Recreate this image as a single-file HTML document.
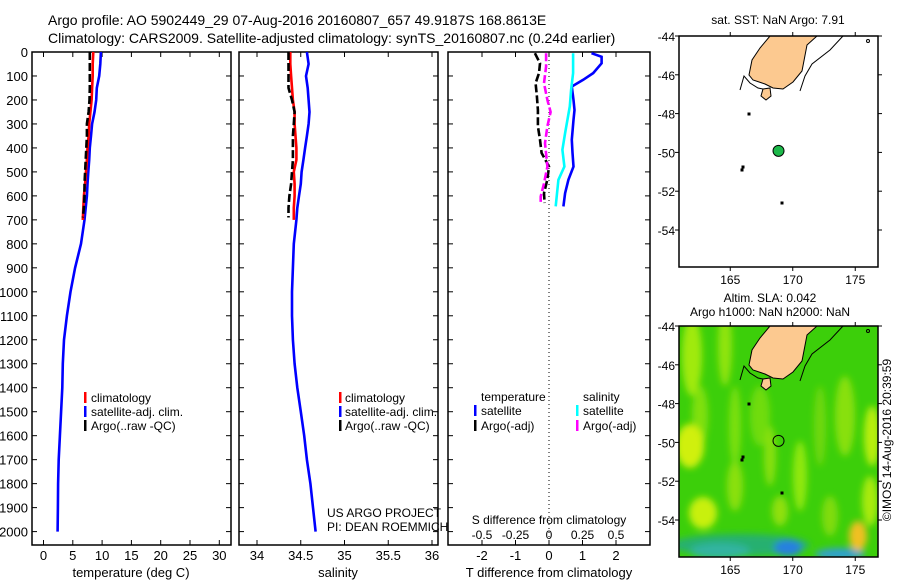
<!DOCTYPE html>
<html><head><meta charset="utf-8"><style>
body{margin:0;background:#fff;}
svg{display:block;font-family:"Liberation Sans",sans-serif;}
</style></head><body>
<svg id="fig" width="900" height="580" viewBox="0 0 900 580" xmlns="http://www.w3.org/2000/svg">
<rect width="900" height="580" fill="#fff"/>
<text x="48" y="25" font-size="14">Argo profile: AO 5902449_29 07-Aug-2016 20160807_657 49.9187S 168.8613E</text>
<text x="48" y="43" font-size="14">Climatology: CARS2009. Satellite-adjusted climatology: synTS_20160807.nc (0.24d earlier)</text>
<g id="plots"></g>
</svg>
<script>
// ---------- data ----------
const climDepths=[0,50,100,150,200,250,300,350,400,450,500,550,600,650,700];
const climTemp=[8.5,8.4,8.4,8.3,8.2,8.0,7.8,7.7,7.5,7.4,7.25,7.1,6.9,6.8,6.7];
const climSal=[34.38,34.38,34.39,34.40,34.41,34.43,34.43,34.44,34.45,34.45,34.42,34.43,34.43,34.42,34.42];
const satDepths=[0,50,100,150,200,250,300,350,400,450,500,550,600,650,700,800,900,1000,1100,1200,1300,1400,1500,1600,1700,1800,1900,2000];
const satTemp=[9.8,9.7,9.5,9.1,9.0,8.7,8.3,8.1,7.9,7.8,7.65,7.5,7.4,7.2,7.0,6.4,5.4,4.6,4.0,3.5,3.3,3.2,3.0,2.8,2.6,2.5,2.45,2.4];
const satSal=[34.57,34.59,34.56,34.58,34.59,34.60,34.59,34.57,34.55,34.53,34.51,34.50,34.48,34.46,34.45,34.42,34.41,34.40,34.40,34.41,34.43,34.46,34.50,34.54,34.57,34.61,34.64,34.67];
const argoDepths=[0,50,100,150,200,250,300,350,400,450,500,550,600,650,690];
const argoTemp=[7.9,7.9,7.9,7.9,7.85,7.7,7.4,7.4,7.3,7.2,7.1,7.0,7.0,6.9,6.7];
const argoSal=[34.36,34.36,34.36,34.36,34.40,34.43,34.42,34.41,34.41,34.41,34.40,34.39,34.37,34.36,34.36];
const dTsatDepths=[5,20,47,88,116,144,200,242,283,366,420,478,533,589,644];
const dTsat=[1.27,1.57,1.57,1.32,1.02,0.68,0.73,0.76,0.73,0.68,0.70,0.73,0.58,0.48,0.43];
const dSsatDepths=[5,88,158,227,338,408,478,533,644];
const dSsat=[0.18,0.18,0.165,0.155,0.12,0.10,0.115,0.07,0.05];
const dTargoDepths=[5,47,88,130,185,242,310,366,421,478,533,589,630];
const dTargo=[-0.42,-0.27,-0.30,-0.40,-0.36,-0.33,-0.33,-0.27,-0.22,0.0,-0.05,-0.15,-0.13];
const dSargoDepths=[5,60,130,200,250,310,380,478,548,603,630];
const dSargo=[-0.022,-0.022,-0.037,-0.012,0.012,-0.012,-0.03,-0.012,-0.037,-0.062,-0.062];
const depthTicks=[0,100,200,300,400,500,600,700,800,900,1000,1100,1200,1300,1400,1500,1600,1700,1800,1900,2000];
const tempTicks=[0,5,10,15,20,25,30];
const salTicks=[34,34.5,35,35.5,36];
const salTickLabels=["34","34.5","35","35.5","36"];
const dTTicks=[-2,-1,0,1,2];
const dSTicks=[-0.5,-0.25,0,0.25,0.5];
const dSTickLabels=["-0.5","-0.25","0","0.25","0.5"];
const latTicks=[-44,-46,-48,-50,-52,-54];
const lonTicks=[165,170,175];
const argoLon=168.8613, argoLat=-49.9187;

// ---------- helpers ----------
const NS="http://www.w3.org/2000/svg";
const root=document.getElementById('plots');
function mk(tag,attrs,parent){const e=document.createElementNS(NS,tag);for(const k in attrs)e.setAttribute(k,attrs[k]);(parent||root).appendChild(e);return e;}
const TOP=52,BOT=545;
const yD=d=>TOP+d*0.2398;
function line(xs,ds,sx,color,dash,name){
  const pts=xs.map((v,i)=>sx(v).toFixed(1)+','+yD(ds[i]).toFixed(1)).join(' ');
  const p=mk('polyline',{points:pts,fill:'none',stroke:color,'stroke-width':2.6});
  if(dash)p.setAttribute('stroke-dasharray',dash);
  
  
}
function panel(x0,x1,name){
  const r=mk('rect',{x:x0,y:TOP,width:x1-x0,height:BOT-TOP,fill:'none',stroke:'#000','stroke-width':1.5});
  
  
  depthTicks.forEach(d=>{mk('line',{x1:x0,x2:x0+5,y1:yD(d),y2:yD(d),stroke:'#000'});mk('line',{x1:x1-5,x2:x1,y1:yD(d),y2:yD(d),stroke:'#000'});});
}
function txt(x,y,s,size,anchor,name){const t=mk('text',{x:x,y:y,'font-size':size,'text-anchor':anchor||'start'});t.textContent=s;
  
  return t;}
function legendBar(x,y,color){mk('rect',{x:x,y:y-10,width:2.5,height:11,fill:color});}

// ---------- panel 1: temperature ----------
const sxT=v=>43.5+v*5.86;
panel(32,231,'temperature-panel');
depthTicks.forEach(d=>txt(28,yD(d)+5,String(d),13,'end','depth-tick-label'));
tempTicks.forEach(v=>{mk('line',{x1:sxT(v),x2:sxT(v),y1:BOT,y2:BOT-5,stroke:'#000'});mk('line',{x1:sxT(v),x2:sxT(v),y1:TOP,y2:TOP+5,stroke:'#000'});txt(sxT(v),560,String(v),13,'middle','temp-tick-label');});
txt(131,577,'temperature (deg C)',13,'middle','temp-axis-title');
line(satTemp,satDepths,sxT,'#0000ff',null,'temp-satellite-line');
line(climTemp,climDepths,sxT,'#ff0000',null,'temp-climatology-line');
line(argoTemp,argoDepths,sxT,'#000',"8 3",'temp-argo-line');
legendBar(84,402,'#f00');txt(91,402,'climatology',12,'start','legend-climatology');
legendBar(84,416,'#00f');txt(91,416,'satellite-adj. clim.',12,'start','legend-satellite');
legendBar(84,430,'#000');txt(91,430,'Argo(..raw -QC)',12,'start','legend-argo');

// ---------- panel 2: salinity ----------
const sxS=v=>257+(v-34)*87.5;
panel(239,438,'salinity-panel');
salTicks.forEach((v,i)=>{mk('line',{x1:sxS(v),x2:sxS(v),y1:BOT,y2:BOT-5,stroke:'#000'});mk('line',{x1:sxS(v),x2:sxS(v),y1:TOP,y2:TOP+5,stroke:'#000'});txt(sxS(v),560,salTickLabels[i],13,'middle','sal-tick-label');});
txt(338,577,'salinity',13,'middle','sal-axis-title');
line(satSal,satDepths,sxS,'#0000ff',null,'sal-satellite-line');
line(climSal,climDepths,sxS,'#ff0000',null,'sal-climatology-line');
line(argoSal,argoDepths,sxS,'#000',"8 3",'sal-argo-line');
legendBar(339,402,'#f00');txt(345,402,'climatology',12,'start','legend-climatology-2');
legendBar(339,416,'#00f');txt(345,416,'satellite-adj. clim.',12,'start','legend-satellite-2');
legendBar(339,430,'#000');txt(345,430,'Argo(..raw -QC)',12,'start','legend-argo-2');
txt(327,517,'US ARGO PROJECT',12,'start','credit-project');
txt(327,531,'PI: DEAN ROEMMICH',12,'start','credit-pi');

// ---------- panel 3: differences ----------
const sxD=v=>549+v*33.5;
const sxDS=v=>549+v*4*33.5;
panel(448,650,'difference-panel');
mk('line',{x1:549,x2:549,y1:TOP,y2:BOT,stroke:'#000','stroke-dasharray':'1 3'});
dTTicks.forEach(v=>{mk('line',{x1:sxD(v),x2:sxD(v),y1:BOT,y2:BOT-5,stroke:'#000'});mk('line',{x1:sxD(v),x2:sxD(v),y1:TOP,y2:TOP+5,stroke:'#000'});txt(sxD(v),560,String(v),13,'middle','dT-tick-label');});
dSTicks.forEach((v,i)=>txt(sxDS(v),539,dSTickLabels[i],12,'middle','dS-tick-label'));
txt(549,524,'S difference from climatology',12,'middle','dS-axis-title');
txt(549,577,'T difference from climatology',13,'middle','dT-axis-title');
line(dTsat,dTsatDepths,sxD,'#0000ff',null,'dT-satellite-line');
line(dSsat,dSsatDepths,sxDS,'#00ffff',null,'dS-satellite-line');
line(dTargo,dTargoDepths,sxD,'#000',"8 3",'dT-argo-line');
line(dSargo,dSargoDepths,sxDS,'#ff00ff',"8 3",'dS-argo-line');
txt(481,401,'temperature',12,'start','legend-temperature-head');
txt(583,401,'salinity',12,'start','legend-salinity-head');
legendBar(474,415,'#00f');txt(481,415,'satellite',12,'start','legend-dT-satellite');
legendBar(474,430,'#000');txt(481,430,'Argo(-adj)',12,'start','legend-dT-argo');
legendBar(576,415,'#0ff');txt(583,415,'satellite',12,'start','legend-dS-satellite');
legendBar(576,430,'#f0f');txt(583,430,'Argo(-adj)',12,'start','legend-dS-argo');

// ---------- maps ----------
const MX0=679,MX1=878;
const mxL=lon=>679+(lon-160.9)*12.5;
function drawMap(y0,name,field){
  const g=mk('g',{});
  
  
  const my=lat=>y0+(-44-lat)*19.4;
  const h=231;
  if(field){
    const defs=mk('defs',{},g);
    const cp=mk('clipPath',{id:'clip2'},defs);mk('rect',{x:MX0,y:y0,width:MX1-MX0,height:h},cp);
    const fl=mk('filter',{id:'blur'},defs);mk('feGaussianBlur',{stdDeviation:3.5},fl);
    const fg=mk('g',{'clip-path':'url(#clip2)'},g);
    mk('rect',{x:MX0,y:y0,width:MX1-MX0,height:h,fill:'#3ccf0a'},fg);
    const bg=mk('g',{filter:'url(#blur)'},fg);
    const blobs=[[692,30,10,40,'#a0ea10'],[725,20,7,40,'#90e410'],[700,90,8,30,'#80e010'],[735,100,6,40,'#7ce010'],[760,90,10,30,'#70dc10'],[690,120,14,22,'#d0f00a'],[735,160,8,25,'#8ae010'],[770,130,6,30,'#88e010'],[800,150,7,35,'#90e80a'],[820,100,6,40,'#70d810'],[845,90,10,40,'#88e010'],[872,110,8,30,'#b8ee10'],[703,187,14,16,'#c8f010'],[780,185,8,15,'#90e010'],[830,190,8,20,'#80dc10'],[870,175,8,25,'#a8ea10'],[740,219,70,11,'#28b070'],[720,225,30,8,'#30b4a0'],[788,222,14,8,'#2880e0'],[840,228,25,6,'#30a0d0'],[858,210,9,15,'#f0c020']];
    blobs.forEach(b=>mk('ellipse',{cx:b[0],cy:y0+b[1],rx:b[2],ry:b[3],fill:b[4]},bg));
  }
  // land
  const land=mk('polygon',{points:[[770,0],[817,0],[807,9],[802,35],[793,46],[783,53],[773,52],[765,48],[753,44],[749,39],[752,24],[760,12]].map(p=>p[0]+','+(y0+p[1])).join(' '),fill:'#fcc990',stroke:'#000','stroke-width':1},g);
  
  
  mk('polygon',{points:[[763,53],[770,52],[771,60],[766,64],[761,60]].map(p=>p[0]+','+(y0+p[1])).join(' '),fill:'#fcc990',stroke:'#000'},g);
  mk('polyline',{points:[[740,54],[744,40],[750,47],[758,52],[763,53]].map(p=>p[0]+','+(y0+p[1])).join(' '),fill:'none',stroke:'#000'},g);
  mk('polyline',{points:[[843,0],[830,14],[812,28],[805,40],[800,55]].map(p=>p[0]+','+(y0+p[1])).join(' '),fill:'none',stroke:'#000'},g);
  [[749,78],[743,131],[742,134],[782,167]].forEach(p=>mk('rect',{x:p[0]-1.5,y:y0+p[1]-1.5,width:3,height:3,fill:'#000'},g));
  mk('circle',{cx:868,cy:y0+5,r:1.5,fill:'none',stroke:'#000'},g);
  const c=mk('circle',{cx:mxL(argoLon),cy:my(argoLat),r:5.5,fill:field?'none':'#1db84a',stroke:'#000','stroke-width':1},g);
  
  
  mk('rect',{x:MX0,y:y0,width:MX1-MX0,height:h,fill:'none',stroke:'#000','stroke-width':1.5},g);
  latTicks.forEach(l=>{mk('line',{x1:MX0-4,x2:MX0,y1:my(l),y2:my(l),stroke:'#000'},g);mk('line',{x1:MX1,x2:MX1+4,y1:my(l),y2:my(l),stroke:'#000'},g);txt(675,my(l)+5,String(l),12,'end','lat-tick-label');});
  lonTicks.forEach(l=>{mk('line',{x1:mxL(l),x2:mxL(l),y1:y0+h,y2:y0+h+4,stroke:'#000'},g);mk('line',{x1:mxL(l),x2:mxL(l),y1:y0-4,y2:y0,stroke:'#000'},g);txt(mxL(l),y0+h+17,String(l),12,'middle','lon-tick-label');});
}
drawMap(36,'sst-map',false);
drawMap(326,'sla-map',true);
txt(778,24,'sat. SST: NaN Argo: 7.91',12,'middle','sst-map-title');
txt(770,302,'Altim. SLA: 0.042',12,'middle','sla-map-title-1');
txt(770,316,'Argo h1000: NaN h2000: NaN',12,'middle','sla-map-title-2');
const rt=txt(0,0,'©IMOS 14-Aug-2016 20:39:59',12,'middle','timestamp-credit');
rt.setAttribute('transform','translate(891,440) rotate(-90)');
</script>
</body></html>
